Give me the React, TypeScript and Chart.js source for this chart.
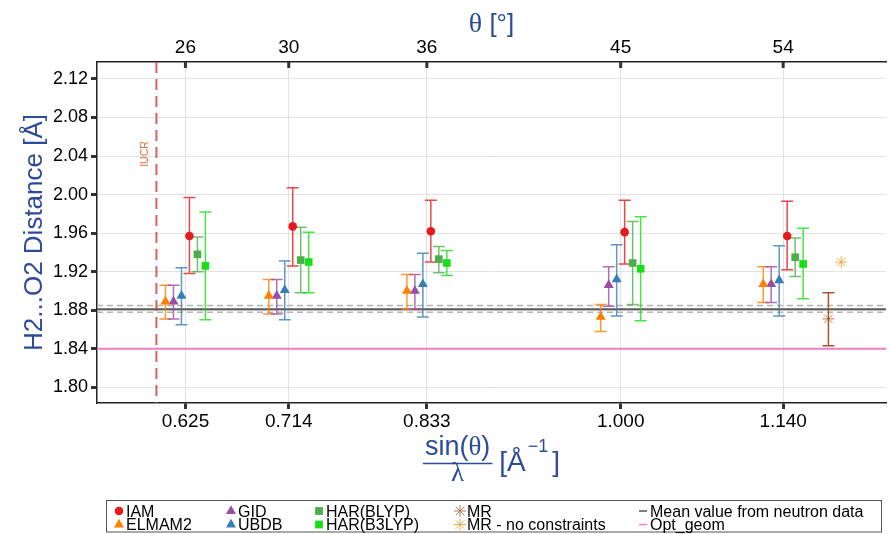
import React, { useEffect, useRef } from "react";
import { Chart, registerables } from "chart.js";

Chart.register(...registerables);

// ---------- data ----------
const sinThetaLambda = [0.625, 0.714, 0.833, 1.0, 1.14];
const sinThetaLambdaLabels = ["0.625", "0.714", "0.833", "1.000", "1.140"];
const thetaLabels = ["26", "30", "36", "45", "54"];
const yTickValues = [1.8, 1.84, 1.88, 1.92, 1.96, 2.0, 2.04, 2.08, 2.12];

const elmam2Y = [1.889, 1.895, 1.9, 1.873, 1.907];
const elmam2Lo = [1.871, 1.876, 1.881, 1.858, 1.888];
const elmam2Hi = [1.906, 1.912, 1.917, 1.886, 1.925];

const gidY = [1.889, 1.895, 1.9, 1.906, 1.907];
const gidLo = [1.871, 1.876, 1.881, 1.884, 1.888];
const gidHi = [1.906, 1.912, 1.917, 1.925, 1.925];

const ubdbY = [1.895, 1.901, 1.907, 1.912, 1.911];
const ubdbLo = [1.865, 1.87, 1.873, 1.874, 1.874];
const ubdbHi = [1.924, 1.931, 1.939, 1.948, 1.947];

const iamY = [1.957, 1.967, 1.962, 1.961, 1.957];
const iamLo = [1.918, 1.926, 1.93, 1.928, 1.922];
const iamHi = [1.997, 2.007, 1.994, 1.994, 1.993];

const harBlypY = [1.938, 1.932, 1.933, 1.929, 1.935];
const harBlypLo = [1.92, 1.898, 1.919, 1.886, 1.915];
const harBlypHi = [1.956, 1.966, 1.946, 1.972, 1.955];

const harB3lypY = [1.926, 1.93, 1.929, 1.923, 1.928];
const harB3lypLo = [1.87, 1.898, 1.916, 1.869, 1.892];
const harB3lypHi = [1.982, 1.961, 1.942, 1.977, 1.965];

const mrX = [1.179];
const mrY = [1.871];
const mrLo = [1.843];
const mrHi = [1.898];

const mrNoConstrX = [1.19];
const mrNoConstrY = [1.93];

const neutronMean = [1.881];
const neutronBand = [1.878, 1.885];
const optGeom = [1.84];
const iucrLimit = [0.6];

// ---------- layout / style ----------
const X_MIN = 0.5488;
const X_MAX = 1.2286;
const Y_MIN = 1.7837;
const Y_MAX = 2.1376;
const DODGE = 0.00688;
const BLUE = "#2d4b9b";
const SANS = "'Liberation Sans', Arial, sans-serif";
const SERIF = "'Liberation Serif', 'Times New Roman', serif";

type Series = {
  label: string;
  color: string;
  errColor: string;
  style: string;
  radius: number;
  slot: number;
  y: number[];
  lo: number[];
  hi: number[];
};

const groupSeries: Series[] = [
  { label: "ELMAM2", color: "#ff7f00", errColor: "rgba(255,127,0,0.8)", style: "triangle", radius: 5.8, slot: 0, y: elmam2Y, lo: elmam2Lo, hi: elmam2Hi },
  { label: "GID", color: "#984ea3", errColor: "rgba(152,78,163,0.8)", style: "triangle", radius: 5.8, slot: 1, y: gidY, lo: gidLo, hi: gidHi },
  { label: "UBDB", color: "#377eb8", errColor: "rgba(55,126,184,0.8)", style: "triangle", radius: 5.8, slot: 2, y: ubdbY, lo: ubdbLo, hi: ubdbHi },
  { label: "IAM", color: "#e41a1c", errColor: "rgba(228,26,28,0.8)", style: "circle", radius: 4.3, slot: 3, y: iamY, lo: iamLo, hi: iamHi },
  { label: "HAR(BLYP)", color: "#4daf4a", errColor: "rgba(77,175,74,0.8)", style: "rect", radius: 5.4, slot: 4, y: harBlypY, lo: harBlypLo, hi: harBlypHi },
  { label: "HAR(B3LYP)", color: "#19dd19", errColor: "rgba(25,221,25,0.8)", style: "rect", radius: 5.4, slot: 5, y: harB3lypY, lo: harB3lypLo, hi: harB3lypHi },
];

function buildDatasets() {
  const ds: any[] = groupSeries.map((s) => ({
    label: s.label,
    data: sinThetaLambda.map((x, i) => ({
      x: x + (s.slot - 2.5) * DODGE,
      y: s.y[i],
      yMin: s.lo[i],
      yMax: s.hi[i],
    })),
    pointStyle: s.style,
    pointRadius: s.radius,
    pointBackgroundColor: s.color,
    pointBorderColor: s.color,
    pointBorderWidth: 0,
    errColor: s.errColor,
    showLine: false,
  }));
  ds.push({
    label: "MR",
    data: mrX.map((x, i) => ({ x, y: mrY[i], yMin: mrLo[i], yMax: mrHi[i] })),
    pointStyle: "star",
    pointRadius: 6,
    pointBackgroundColor: "#a65628",
    pointBorderColor: "rgba(166,86,40,0.75)",
    pointBorderWidth: 1,
    errColor: "#a65628",
    showLine: false,
  });
  ds.push({
    label: "MR - no constraints",
    data: mrNoConstrX.map((x, i) => ({ x, y: mrNoConstrY[i] })),
    pointStyle: "star",
    pointRadius: 6,
    pointBackgroundColor: "#e3a93a",
    pointBorderColor: "rgba(227,169,58,0.9)",
    pointBorderWidth: 1,
    showLine: false,
  });
  return ds;
}

function drawMarker(ctx: CanvasRenderingContext2D, style: string, x: number, y: number, color: string) {
  ctx.save();
  ctx.fillStyle = color;
  ctx.strokeStyle = color;
  ctx.beginPath();
  if (style === "circle") {
    ctx.arc(x, y, 4.3, 0, Math.PI * 2);
    ctx.fill();
  } else if (style === "triangle") {
    const r = 5.8;
    ctx.moveTo(x, y - r);
    ctx.lineTo(x + r * Math.sin((2 * Math.PI) / 3), y - r * Math.cos((2 * Math.PI) / 3));
    ctx.lineTo(x + r * Math.sin((4 * Math.PI) / 3), y - r * Math.cos((4 * Math.PI) / 3));
    ctx.closePath();
    ctx.fill();
  } else if (style === "rect") {
    ctx.fillRect(x - 3.9, y - 3.9, 7.8, 7.8);
  } else if (style === "star") {
    const r = 6;
    ctx.lineWidth = 1;
    for (let k = 0; k < 4; k++) {
      const a = (k * Math.PI) / 4;
      ctx.moveTo(x - r * Math.cos(a), y - r * Math.sin(a));
      ctx.lineTo(x + r * Math.cos(a), y + r * Math.sin(a));
    }
    ctx.stroke();
  } else if (style === "line") {
    ctx.lineWidth = 1.5;
    ctx.moveTo(x - 4, y);
    ctx.lineTo(x + 4, y);
    ctx.stroke();
  }
  ctx.restore();
}

const legendItems = [
  { label: "IAM", style: "circle", color: "#e41a1c", col: 0, row: 0 },
  { label: "ELMAM2", style: "triangle", color: "#ff7f00", col: 0, row: 1 },
  { label: "GID", style: "triangle", color: "#984ea3", col: 1, row: 0 },
  { label: "UBDB", style: "triangle", color: "#377eb8", col: 1, row: 1 },
  { label: "HAR(BLYP)", style: "rect", color: "#4daf4a", col: 2, row: 0 },
  { label: "HAR(B3LYP)", style: "rect", color: "#19dd19", col: 2, row: 1 },
  { label: "MR", style: "star", color: "#b07a5a", col: 3, row: 0 },
  { label: "MR - no constraints", style: "star", color: "#e3b050", col: 3, row: 1 },
  { label: "Mean value from neutron data", style: "line", color: "#555555", col: 4, row: 0 },
  { label: "Opt_geom", style: "line", color: "#f27ec8", col: 4, row: 1 },
];
const legendColMarkerX = [119, 231, 319, 460, 643];

const decorPlugin = {
  id: "decor",
  beforeDatasetsDraw(chart: any) {
    const { ctx, chartArea: a, scales } = chart;
    const xs = scales.x;
    const ys = scales.y;
    ctx.save();
    ctx.beginPath();
    ctx.rect(a.left, a.top, a.right - a.left, a.bottom - a.top);
    ctx.clip();

    const hline = (v: number, color: string, w: number, dash: number[]) => {
      const py = ys.getPixelForValue(v);
      ctx.beginPath();
      ctx.setLineDash(dash);
      ctx.strokeStyle = color;
      ctx.lineWidth = w;
      ctx.moveTo(a.left, py);
      ctx.lineTo(a.right, py);
      ctx.stroke();
    };
    optGeom.forEach((v) => hline(v, "#f07cc6", 2, []));
    neutronBand.forEach((v) => hline(v, "#b4b4b4", 1.5, [6, 4]));
    neutronMean.forEach((v) => hline(v, "#5a5a5a", 2, []));

    iucrLimit.forEach((v) => {
      const px = xs.getPixelForValue(v);
      ctx.beginPath();
      ctx.setLineDash([11, 6]);
      ctx.strokeStyle = "rgba(205,70,70,0.85)";
      ctx.lineWidth = 2;
      ctx.moveTo(px, a.top);
      ctx.lineTo(px, a.bottom);
      ctx.stroke();
    });
    ctx.setLineDash([]);

    // error bars
    chart.data.datasets.forEach((ds: any, di: number) => {
      const meta = chart.getDatasetMeta(di);
      ds.data.forEach((d: any, j: number) => {
        if (d.yMin == null || d.yMax == null) return;
        const el = meta.data[j];
        const px = el.x;
        const y1 = ys.getPixelForValue(d.yMin);
        const y2 = ys.getPixelForValue(d.yMax);
        ctx.beginPath();
        ctx.strokeStyle = ds.errColor;
        ctx.lineWidth = 1.5;
        ctx.moveTo(px, y1);
        ctx.lineTo(px, y2);
        ctx.moveTo(px - 6, y1);
        ctx.lineTo(px + 6, y1);
        ctx.moveTo(px - 6, y2);
        ctx.lineTo(px + 6, y2);
        ctx.stroke();
      });
    });
    ctx.restore();
  },
  afterDraw(chart: any) {
    const { ctx, chartArea: a, scales } = chart;
    const xs = scales.x;
    ctx.save();

    // inward ticks on the top axis
    ctx.strokeStyle = "#333";
    ctx.lineWidth = 3;
    sinThetaLambda.forEach((v) => {
      const px = xs.getPixelForValue(v);
      ctx.beginPath();
      ctx.moveTo(px, a.top);
      ctx.lineTo(px, a.top + 6);
      ctx.stroke();
    });

    // IUCR label
    iucrLimit.forEach((v) => {
      const px = xs.getPixelForValue(v);
      ctx.save();
      ctx.translate(px - 11, a.top + 92);
      ctx.rotate(-Math.PI / 2);
      ctx.fillStyle = "#e0703c";
      ctx.font = `10.5px ${SANS}`;
      ctx.textAlign = "center";
      ctx.textBaseline = "middle";
      ctx.fillText("IUCR", 0, 0);
      ctx.restore();
    });

    const cx = (a.left + a.right) / 2;
    const cy = (a.top + a.bottom) / 2;
    ctx.fillStyle = BLUE;
    ctx.strokeStyle = BLUE;

    // top title: θ [°]
    ctx.textBaseline = "alphabetic";
    ctx.textAlign = "left";
    ctx.font = `28px ${SERIF}`;
    const thW = ctx.measureText("θ").width;
    ctx.font = `26px ${SANS}`;
    const brW = ctx.measureText(" [°]").width;
    const tx = cx - (thW + brW) / 2;
    ctx.font = `28px ${SERIF}`;
    ctx.fillText("θ", tx, 32);
    ctx.font = `26px ${SANS}`;
    ctx.fillText(" [°]", tx + thW, 32);

    // left title
    ctx.save();
    ctx.translate(42, cy);
    ctx.rotate(-Math.PI / 2);
    ctx.textAlign = "center";
    ctx.font = `26px ${SANS}`;
    ctx.fillText("H2...O2 Distance [Å]", 0, 0);
    ctx.restore();

    // bottom title: sin(θ)/λ [Å^-1]
    ctx.textAlign = "left";
    ctx.font = `27px ${SANS}`;
    const w1 = ctx.measureText("sin(").width;
    const w3 = ctx.measureText(")").width;
    ctx.font = `27px ${SERIF}`;
    const w2 = ctx.measureText("θ").width;
    const numW = w1 + w2 + w3;
    ctx.font = `28px ${SANS}`;
    const wb1 = ctx.measureText("[Å").width;
    const wb3 = ctx.measureText("]").width;
    ctx.font = `18px ${SANS}`;
    const wsup = ctx.measureText("−1").width;
    const fracW = numW + 4;
    const total = fracW + 7 + wb1 + 2 + wsup + 4 + wb3;
    const x0 = cx - total / 2;
    const fracCx = x0 + fracW / 2;
    const nx = fracCx - numW / 2;
    ctx.font = `27px ${SANS}`;
    ctx.fillText("sin(", nx, 455);
    ctx.font = `27px ${SERIF}`;
    ctx.fillText("θ", nx + w1, 455);
    ctx.font = `27px ${SANS}`;
    ctx.fillText(")", nx + w1 + w2, 455);
    ctx.beginPath();
    ctx.lineWidth = 1.5;
    ctx.moveTo(x0, 463.5);
    ctx.lineTo(x0 + fracW, 463.5);
    ctx.stroke();
    ctx.font = `27px ${SERIF}`;
    ctx.textAlign = "center";
    ctx.fillText("λ", fracCx, 481);
    ctx.textAlign = "left";
    let bx = x0 + fracW + 7;
    ctx.font = `28px ${SANS}`;
    ctx.fillText("[Å", bx, 471);
    bx += wb1 + 2;
    ctx.font = `18px ${SANS}`;
    ctx.fillText("−1", bx, 452);
    bx += wsup + 4;
    ctx.font = `28px ${SANS}`;
    ctx.fillText("]", bx, 471);

    // legend box
    ctx.strokeStyle = "#555";
    ctx.lineWidth = 1;
    ctx.strokeRect(106.5, 500.5, 775, 31.5);
    ctx.font = `16px ${SANS}`;
    ctx.fillStyle = "#000";
    ctx.textBaseline = "alphabetic";
    ctx.textAlign = "left";
    const rowMarkerY = [511, 524.5];
    const rowTextY = [517, 530];
    legendItems.forEach((it) => {
      const mx = legendColMarkerX[it.col];
      drawMarker(ctx, it.style, mx, rowMarkerY[it.row], it.color);
      ctx.fillStyle = "#000";
      ctx.fillText(it.label, mx + 7, rowTextY[it.row]);
    });

    ctx.restore();
  },
};

export default function App() {
  const canvasRef = useRef<HTMLCanvasElement | null>(null);

  useEffect(() => {
    document.body.style.margin = "0";
    document.body.style.overflow = "hidden";
    const canvas = canvasRef.current;
    if (!canvas) return;
    const tickFontX = { family: SANS, size: 19 };
    const tickFontY = { family: SANS, size: 18 };
    const noPad = (scale: any, h: number) => {
      scale.height = h;
      scale.paddingLeft = 0;
      scale.paddingRight = 0;
    };
    const chart = new Chart(canvas, {
      type: "scatter",
      data: { datasets: buildDatasets() },
      options: {
        responsive: false,
        animation: false,
        devicePixelRatio: 1,
        layout: { padding: { left: 0, right: 2, top: 0, bottom: 0 } },
        plugins: {
          legend: { display: false },
          tooltip: { enabled: false },
        },
        scales: {
          x: {
            type: "linear",
            position: "bottom",
            min: X_MIN,
            max: X_MAX,
            afterBuildTicks: (scale: any) => {
              scale.ticks = sinThetaLambda.map((v) => ({ value: v }));
            },
            afterFit: (scale: any) => noPad(scale, 131),
            ticks: {
              autoSkip: false,
              maxRotation: 0,
              color: "#000",
              font: tickFontX,
              padding: 1,
              callback: (_v: any, i: number) => sinThetaLambdaLabels[i],
            },
            grid: {
              color: "#e2e2e2",
              lineWidth: 1,
              tickColor: "#333",
              tickWidth: 3,
              tickLength: 6,
            },
            border: { display: true, color: "#222", width: 1.5 },
          },
          x2: {
            type: "linear",
            position: "top",
            min: X_MIN,
            max: X_MAX,
            afterBuildTicks: (scale: any) => {
              scale.ticks = sinThetaLambda.map((v) => ({ value: v }));
            },
            afterFit: (scale: any) => noPad(scale, 62),
            ticks: {
              autoSkip: false,
              maxRotation: 0,
              color: "#000",
              font: tickFontX,
              padding: 3,
              callback: (_v: any, i: number) => thetaLabels[i],
            },
            grid: { display: false, drawTicks: false },
            border: { display: true, color: "#222", width: 1.5 },
          },
          y: {
            type: "linear",
            position: "left",
            min: Y_MIN,
            max: Y_MAX,
            afterBuildTicks: (scale: any) => {
              scale.ticks = yTickValues.map((v) => ({ value: v }));
            },
            afterFit: (scale: any) => {
              scale.width = 97;
              scale.paddingTop = 0;
              scale.paddingBottom = 0;
            },
            ticks: {
              color: "#000",
              font: tickFontY,
              padding: 3,
              callback: (v: any) => Number(v).toFixed(2),
            },
            grid: {
              color: "#e2e2e2",
              lineWidth: 1,
              tickColor: "#333",
              tickWidth: 3,
              tickLength: 6,
            },
            border: { display: true, color: "#222", width: 1.5 },
          },
        },
      } as any,
      plugins: [decorPlugin],
    });
    return () => chart.destroy();
  }, []);

  return (
    <div style={{ width: 890, height: 534, overflow: "hidden", background: "#fff" }}>
      <canvas ref={canvasRef} width={893} height={534} style={{ display: "block" }} />
    </div>
  );
}
